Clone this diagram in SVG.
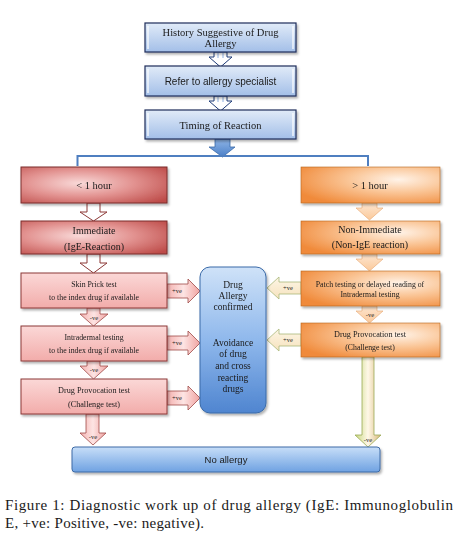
<svg xmlns="http://www.w3.org/2000/svg" width="458" height="548" viewBox="0 0 458 548">
<defs>
<style>
.topbox{fill:url(#gTop);stroke:#1f2d5a;stroke-width:1.2}
.hl{stroke:#ffffff;stroke-width:1.5;opacity:0.8}
.redbox{fill:url(#gRed);stroke:#7a2e2c;stroke-width:1}
.pinkbox{fill:url(#gPink);stroke:#8c3836;stroke-width:1}
.orbox{fill:url(#gOr);stroke:#b5651d;stroke-width:0.6}
.whiteArrow{fill:#ffffff;stroke:#8c3836;stroke-width:1}
.whiteArrowB{fill:#ffffff;stroke:#1f3c78;stroke-width:1}
.pinkArrow{fill:url(#gPinkA);stroke:#a04a48;stroke-width:0.8}
.orArrow{fill:url(#gOrA);stroke:#e5a56d;stroke-width:0.6}
.creamArrow{fill:url(#gCream);stroke:#a9b87a;stroke-width:0.8}
.lbl{font-size:6.5px;fill:#222;text-anchor:middle}
.t{text-anchor:middle}
</style>
<linearGradient id="gTop" x1="0" y1="0" x2="0" y2="1">
<stop offset="0" stop-color="#e1ebf8"/><stop offset="1" stop-color="#a3bfe8"/>
</linearGradient>
<radialGradient id="gRed" cx="0.4" cy="0.45" r="0.75">
<stop offset="0" stop-color="#f9d9d8"/><stop offset="0.5" stop-color="#e29290"/><stop offset="1" stop-color="#bd4b48"/>
</radialGradient>
<linearGradient id="gPink" x1="0" y1="0" x2="0" y2="1">
<stop offset="0" stop-color="#fbd8d7"/><stop offset="1" stop-color="#f2acaa"/>
</linearGradient>
<radialGradient id="gOr" cx="0.7" cy="0.35" r="0.8">
<stop offset="0" stop-color="#fff3e8"/><stop offset="0.45" stop-color="#fac596"/><stop offset="1" stop-color="#f08a3a"/>
</radialGradient>
<linearGradient id="gBlue" x1="0" y1="0" x2="0" y2="1">
<stop offset="0" stop-color="#cfe2f8"/><stop offset="0.5" stop-color="#8fb8ec"/><stop offset="1" stop-color="#4f85d0"/>
</linearGradient>
<linearGradient id="gBar" x1="0" y1="0" x2="0" y2="1">
<stop offset="0" stop-color="#c7def8"/><stop offset="1" stop-color="#6fa2e2"/>
</linearGradient>
<linearGradient id="gBlueA" x1="0" y1="0" x2="0" y2="1">
<stop offset="0" stop-color="#8fb5e6"/><stop offset="1" stop-color="#4a7fc8"/>
</linearGradient>
<linearGradient id="gPinkA" x1="0" y1="0" x2="1" y2="0">
<stop offset="0" stop-color="#f4b2b0"/><stop offset="0.5" stop-color="#fde4e3"/><stop offset="1" stop-color="#f0a3a1"/>
</linearGradient>
<linearGradient id="gOrA" x1="0" y1="0" x2="0" y2="1">
<stop offset="0" stop-color="#fde6d1"/><stop offset="1" stop-color="#fbc99a"/>
</linearGradient>
<linearGradient id="gCream" x1="0" y1="0" x2="0" y2="1">
<stop offset="0" stop-color="#fdf6e6"/><stop offset="1" stop-color="#f6e2bd"/>
</linearGradient>
<linearGradient id="gLong" x1="0" y1="0" x2="1" y2="0">
<stop offset="0" stop-color="#c8d77f"/><stop offset="0.5" stop-color="#fff8e8"/><stop offset="1" stop-color="#d7b77a"/>
</linearGradient>
<filter id="sh" x="-10%" y="-10%" width="130%" height="140%">
<feDropShadow dx="1.5" dy="2" stdDeviation="1.2" flood-color="#000" flood-opacity="0.3"/>
</filter>
</defs>

<g id="connectors" font-family="Liberation Serif, Times New Roman, serif">
<path class="whiteArrowB" d="M214,52 L227,52 L227,57 L232,57 L220.5,67 L209,57 L214,57 Z"/>
<line x1="218" y1="53" x2="218" y2="58" stroke="#8fb0e0" stroke-width="1"/>
<line x1="223" y1="53" x2="223" y2="58" stroke="#8fb0e0" stroke-width="1"/>
<path class="whiteArrowB" d="M214,96 L227,96 L227,101 L232,101 L220.5,111 L209,101 L214,101 Z"/>
<line x1="218" y1="97" x2="218" y2="102" stroke="#8fb0e0" stroke-width="1"/>
<line x1="223" y1="97" x2="223" y2="102" stroke="#8fb0e0" stroke-width="1"/>
<path d="M215,139 L230,139 L230,147 L235,147 L222.5,157 L209,147 L215,147 Z" fill="url(#gBlueA)" stroke="#3a6aa8" stroke-width="0.8"/>
<polyline points="77.5,166 77.5,156 368,156 368,166" fill="none" stroke="#4f7fc0" stroke-width="2"/>

<path class="whiteArrow" d="M87,203 L100,203 L100,212 L107,212 L93.5,221 L80,212 L87,212 Z"/>
<path class="whiteArrow" d="M87,254 L100,254 L100,263 L107,263 L93.5,273 L80,263 L87,263 Z"/>
<path class="pinkArrow" d="M87,308 L100,308 L100,314 L108,314 L93.5,326 L80,314 L87,314 Z"/>
<text class="lbl" x="94" y="320">-ve</text>
<path class="pinkArrow" d="M87,361 L100,361 L100,366 L108,366 L93.5,379 L80,366 L87,366 Z"/>
<text class="lbl" x="94" y="372">-ve</text>
<path class="pinkArrow" d="M86,414 L99,414 L99,433 L106,433 L93,445 L80,433 L86,433 Z"/>
<text class="lbl" x="93" y="439">-ve</text>

<path class="orArrow" d="M362,203 L377,203 L377,208 L383,208 L369.5,220 L356,208 L362,208 Z"/>
<path class="orArrow" d="M362,254 L377,254 L377,259 L383,259 L369.5,271 L356,259 L362,259 Z"/>
<path class="orArrow" d="M362,306 L377,306 L377,311 L383,311 L369.5,323 L356,311 L362,311 Z"/>
<text class="lbl" x="370" y="317">-ve</text>
<path d="M362,357 L374,357 L374,435 L381,435 L368,447 L355,435 L362,435 Z" fill="url(#gLong)" stroke="#9aaa55" stroke-width="0.8"/>
<text class="lbl" x="368" y="442">-ve</text>

<path class="pinkArrow" d="M167,284 L188,284 L188,279 L200,291 L188,303 L188,298 L167,298 Z"/>
<text class="lbl" x="177" y="293">+ve</text>
<path class="pinkArrow" d="M167,336 L188,336 L188,331 L200,343 L188,355 L188,350 L167,350 Z"/>
<text class="lbl" x="177" y="345">+ve</text>
<path class="pinkArrow" d="M167,391 L188,391 L188,386 L200,398 L188,410 L188,405 L167,405 Z"/>
<text class="lbl" x="177" y="400">+ve</text>

<path class="creamArrow" d="M301,282 L279,282 L279,277 L267,288 L279,299 L279,294 L301,294 Z"/>
<text class="lbl" x="288" y="290">+ve</text>
<path class="creamArrow" d="M301,334 L279,334 L279,329 L267,340 L279,351 L279,346 L301,346 Z"/>
<text class="lbl" x="288" y="342">+ve</text>
</g>

<g font-family="Liberation Serif, Times New Roman, serif" fill="#1a1a1a">
<g id="n-history" filter="url(#sh)">
<rect class="topbox" x="145" y="23" width="151" height="29"/>
<line class="hl" x1="148" y1="26" x2="148" y2="49"/><line class="hl" x1="293" y1="26" x2="293" y2="49"/>
<text class="t" x="220.5" y="36" font-size="10.5">History Suggestive of Drug</text>
<text class="t" x="220.5" y="47" font-size="10.5">Allergy</text>
</g>
<g id="n-refer" filter="url(#sh)">
<rect class="topbox" x="145" y="66" width="151" height="30"/>
<line class="hl" x1="148" y1="69" x2="148" y2="93"/><line class="hl" x1="293" y1="69" x2="293" y2="93"/>
<text class="t" x="220.5" y="85" font-size="10" font-family="Liberation Sans, Arial, sans-serif">Refer to allergy specialist</text>
</g>
<g id="n-timing" filter="url(#sh)">
<rect class="topbox" x="145" y="110" width="151" height="29"/>
<line class="hl" x1="148" y1="113" x2="148" y2="136"/><line class="hl" x1="293" y1="113" x2="293" y2="136"/>
<text class="t" x="220.5" y="129" font-size="10.5">Timing of Reaction</text>
</g>

<g id="n-lt1" filter="url(#sh)">
<rect class="redbox" x="21" y="167" width="146" height="36"/>
<text class="t" x="94" y="189" font-size="10.5">&lt; 1 hour</text>
</g>
<g id="n-immediate" filter="url(#sh)">
<rect class="redbox" x="21" y="221" width="146" height="33"/>
<text class="t" x="94" y="234" font-size="10">Immediate</text>
<text class="t" x="94" y="250" font-size="10">(IgE-Reaction)</text>
</g>
<g id="n-skinprick" filter="url(#sh)">
<rect class="pinkbox" x="21" y="273" width="146" height="35"/>
<text class="t" x="94" y="287" font-size="7.8">Skin Prick test</text>
<text class="t" x="94" y="300" font-size="7.8">to the index drug if available</text>
</g>
<g id="n-intradermal" filter="url(#sh)">
<rect class="pinkbox" x="21" y="326" width="146" height="35"/>
<text class="t" x="94" y="340" font-size="7.8">Intradermal testing</text>
<text class="t" x="94" y="353" font-size="7.8">to the index drug if available</text>
</g>
<g id="n-provocation-left" filter="url(#sh)">
<rect class="pinkbox" x="21" y="379" width="146" height="35"/>
<text class="t" x="94" y="393" font-size="8.2">Drug Provocation test</text>
<text class="t" x="94" y="407" font-size="8.2">(Challenge test)</text>
</g>

<g id="n-gt1" filter="url(#sh)">
<rect class="orbox" x="301" y="167" width="139" height="36"/>
<text class="t" x="370" y="189" font-size="10.5">&gt; 1 hour</text>
</g>
<g id="n-nonimmediate" filter="url(#sh)">
<rect class="orbox" x="301" y="221" width="139" height="33"/>
<text class="t" x="370" y="233" font-size="10">Non-Immediate</text>
<text class="t" x="370" y="248" font-size="10">(Non-IgE reaction)</text>
</g>
<g id="n-patch" filter="url(#sh)">
<rect class="orbox" x="301" y="271" width="139" height="35"/>
<text class="t" x="370" y="287" font-size="7.8">Patch testing or delayed reading of</text>
<text class="t" x="370" y="297" font-size="7.8">Intradermal testing</text>
</g>
<g id="n-provocation-right" filter="url(#sh)">
<rect class="orbox" x="301" y="323" width="139" height="34"/>
<text class="t" x="370" y="337" font-size="8.2">Drug Provocation test</text>
<text class="t" x="370" y="350" font-size="7.8">(Challenge test)</text>
</g>

<g id="n-confirmed" filter="url(#sh)">
<rect x="200" y="267" width="66" height="146" rx="10" ry="10" fill="url(#gBlue)" stroke="#3a6aa8" stroke-width="1"/>
<text class="t" x="233" y="288" font-size="9.5">Drug</text>
<text class="t" x="233" y="299" font-size="9.5">Allergy</text>
<text class="t" x="233" y="310" font-size="9.5">confirmed</text>
<text class="t" x="233" y="346" font-size="9.5">Avoidance</text>
<text class="t" x="233" y="357" font-size="9.5">of drug</text>
<text class="t" x="233" y="369" font-size="9.5">and cross</text>
<text class="t" x="233" y="381" font-size="9.5">reacting</text>
<text class="t" x="233" y="392" font-size="9.5">drugs</text>
</g>

<g id="n-noallergy" filter="url(#sh)">
<rect x="72" y="447" width="308" height="25" rx="3" ry="3" fill="url(#gBar)" stroke="#3d6ba6" stroke-width="1"/>
<text class="t" x="226" y="463" font-size="9.5" font-family="Liberation Sans, Arial, sans-serif">No allergy</text>
</g>

<g id="caption">
<text x="5" y="510" font-size="15" textLength="448" lengthAdjust="spacing">Figure 1: Diagnostic work up of drug allergy (IgE: Immunoglobulin</text>
<text x="5" y="528" font-size="15" textLength="199" lengthAdjust="spacing">E, +ve: Positive, -ve: negative).</text>
</g>
</g>
</svg>
